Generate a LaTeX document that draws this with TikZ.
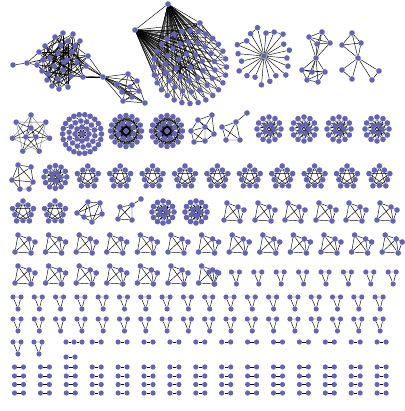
\documentclass[tikz,border=0pt]{standalone}
\pgfdeclarelayer{bg}
\pgfsetlayers{bg,main}
\definecolor{nb}{RGB}{100,100,176}
\tikzset{
 gnode/.style={circle,fill=nb,inner sep=0pt,minimum size=5.6pt},
 snode/.style={circle,fill=nb,inner sep=0pt,minimum size=5.2pt},
 gedge/.style={draw=black,line width=0.45pt},
 fedge/.style={draw=black,line width=0.35pt},
 kpair/.pic={
  \node[snode](-a) at (0,0){};
  \node[snode](-b) at (9,0){};
  \begin{pgfonlayer}{bg}\draw[gedge](-a)--(-b);\end{pgfonlayer}
 },
 kpath/.pic={
  \node[snode](-a) at (0,0){};
  \node[snode](-b) at (8,0){};
  \node[snode](-c) at (16,0){};
  \begin{pgfonlayer}{bg}\draw[gedge](-a)--(-b)--(-c);\end{pgfonlayer}
 },
 ytri/.pic={
  \node[snode](-a) at (-5,-5){};
  \node[snode](-b) at (3,-5){};
  \node[snode](-c) at (0,7){};
  \begin{pgfonlayer}{bg}\draw[gedge](-a)--(-b) (-a)--(-c) (-b)--(-c);\end{pgfonlayer}
 },
 quadg/.pic={
  \node[gnode](-t) at (-5,-9){};
  \node[gnode](-u) at (6,-5){};
  \node[gnode](-w) at (12,-2){};
  \node[gnode](-l) at (-8,8){};
  \node[gnode](-r) at (8,9){};
  \begin{pgfonlayer}{bg}
  \draw[gedge](-t)--(-u) (-u)--(-w) (-w)--(-r) (-t)--(-l) (-l)--(-r) (-t)--(-r) (-u)--(-l) (-u)--(-r);
  \end{pgfonlayer}
 },
 pentg/.pic={
  \foreach \k in {0,...,4}{
   \node[gnode](-o\k) at ({-90+72*\k}:11){};
   \node[gnode](-i\k) at ({-54+72*\k}:8.5){};}
  \begin{pgfonlayer}{bg}
  \foreach \k in {0,...,4}{
   \pgfmathtruncatemacro\kn{mod(\k+1,5)}
   \pgfmathtruncatemacro\kp{mod(\k+2,5)}
   \draw[gedge](-o\k)--(-i\k) (-i\k)--(-o\kn) (-o\k)--(-o\kp) (-i\k)--(-i\kn);}
  \end{pgfonlayer}
 },
 ringg/.pic={
  \foreach \k in {0,...,11} \node[gnode](-o\k) at ({-90+30*\k}:12){};
  \foreach \k in {0,...,4} \node[gnode](-i\k) at ({-70+72*\k}:4.7){};
  \begin{pgfonlayer}{bg}
  \foreach \k in {0,...,11}{
   \pgfmathtruncatemacro\ka{mod(\k+1,12)}
   \pgfmathtruncatemacro\kb{mod(\k+5,12)}
   \pgfmathtruncatemacro\kc{mod(\k,5)}
   \draw[gedge](-o\k)--(-o\ka) (-o\k)--(-o\kb) (-o\k)--(-i\kc);}
  \foreach \k in {0,...,4}{\pgfmathtruncatemacro\ka{mod(\k+2,5)}\draw[gedge](-i\k)--(-i\ka);}
  \end{pgfonlayer}
 },
 bigdense/.pic={
  \foreach \k in {0,...,15} \node[gnode](-o\k) at ({22.5*\k}:15.5){};
  \foreach \k in {0,...,7} \node[gnode](-m\k) at ({45*\k+20}:8){};
  \node[gnode](-c) at (0,0){};
  \begin{pgfonlayer}{bg}
  \foreach \k in {0,...,15}{
   \pgfmathtruncatemacro\ka{mod(\k+4,16)}
   \pgfmathtruncatemacro\kb{mod(\k+7,16)}
   \pgfmathtruncatemacro\kc{mod(\k,8)}
   \draw[gedge](-o\k)--(-o\ka) (-o\k)--(-o\kb) (-o\k)--(-m\kc);}
  \foreach \k in {0,...,7}{
   \pgfmathtruncatemacro\ka{mod(\k+2,8)}
   \pgfmathtruncatemacro\kb{mod(\k+3,8)}
   \draw[gedge](-m\k)--(-m\ka) (-m\k)--(-m\kb) (-m\k)--(-c);}
  \end{pgfonlayer}
 },
 bigring/.pic={
  \foreach \k in {0,...,21} \node[gnode](-o\k) at ({360/22*\k}:19.5){};
  \foreach \k in {0,...,13} \node[gnode](-m\k) at ({360/14*\k+8}:13){};
  \foreach \k in {0,...,7} \node[gnode](-i\k) at ({45*\k}:7){};
  \node[gnode](-c) at (0,0){};
  \begin{pgfonlayer}{bg}
  \foreach \k in {0,...,21}{
   \pgfmathtruncatemacro\ka{mod(round(\k*14/22),14)}
   \pgfmathtruncatemacro\kb{mod(\k+1,22)}
   \draw[gedge](-o\k)--(-m\ka) (-o\k)--(-o\kb);}
  \foreach \k in {0,...,13}{
   \pgfmathtruncatemacro\ka{mod(round(\k*8/14),8)}
   \draw[gedge](-m\k)--(-i\ka);}
  \foreach \k in {0,...,7}{
   \pgfmathtruncatemacro\ka{mod(\k+1,8)}
   \pgfmathtruncatemacro\kb{mod(\k+3,8)}
   \draw[line width=1.6pt](-i\k)--(-i\ka);
   \draw[gedge](-i\k)--(-i\kb);}
  \end{pgfonlayer}
 },
 irrca/.pic={
  \node[gnode](-a) at (-5,-12){};
  \node[gnode](-b) at (8,-10){};
  \node[gnode](-c) at (-11,3){};
  \node[gnode](-d) at (10,5){};
  \node[gnode](-e) at (-3,12){};
  \node[gnode](-f) at (6,12){};
  \begin{pgfonlayer}{bg}
  \draw[gedge](-a)--(-b) (-a)--(-c) (-b)--(-d) (-c)--(-e) (-e)--(-f) (-d)--(-f) (-a)--(-e) (-b)--(-c) (-a)--(-d) (-c)--(-d);
  \end{pgfonlayer}
 },
 irrda/.pic={
  \node[gnode](-a) at (-1,-10){};
  \node[gnode](-b) at (11,-9){};
  \node[gnode](-c) at (-12,1){};
  \node[gnode](-d) at (13,2){};
  \node[gnode](-e) at (-5,5){};
  \node[gnode](-f) at (3,10){};
  \begin{pgfonlayer}{bg}
  \draw[gedge](-a)--(-b) (-a)--(-c) (-a)--(-e) (-a)--(-f) (-b)--(-d) (-b)--(-c) (-c)--(-f) (-d)--(-f) (-e)--(-d) (-e)--(-f) (-b)--(-f);
  \end{pgfonlayer}
 },
 irrdb/.pic={
  \node[gnode](-a) at (-7,-5){};
  \node[gnode](-b) at (5,-7){};
  \node[gnode](-c) at (-9,7){};
  \node[gnode](-d) at (5,8){};
  \node[gnode](-e) at (14,-13){};
  \begin{pgfonlayer}{bg}
  \draw[gedge](-a)--(-b) (-a)--(-c) (-b)--(-d) (-c)--(-d) (-a)--(-d) (-b)--(-c) (-b)--(-e);
  \end{pgfonlayer}
 },
}
\begin{document}
\begin{tikzpicture}[x=1pt,y=-1pt]
\useasboundingbox (0,0) rectangle (404,411);

% ---------- graph 1 (left cluster with bridge) ----------
\node[gnode](g1) at (13,65){};
\node[gnode](g2) at (27,63){};
\foreach \x/\y [count=\c from 3] in {55/37,63/33,73/34,80/41,68/41,61/45,45/46,39/52,58/53,43/60,
  37/65,42/71,77/62,88/56,86/66,63/70,83/77,47/80,52/86,59/89,
  68/87,50/58,67/60,72/52,54/66,75/46,48/74,71/76,58/79,64/62}
  \node[gnode](g\c) at (\x,\y){};
\node[gnode](g33) at (103,77){};
\foreach \x/\y [count=\c from 34] in {128/74,137/81,130/87,139/91,122/92,132/97,123/101,145/103,117/84}
  \node[gnode](g\c) at (\x,\y){};
\begin{pgfonlayer}{bg}
\draw[gedge](g1)--(g2) (g2)--(g10) (g2)--(g12) (g2)--(g13) (g2)--(g24);
\foreach \i in {3,...,32}{
  \foreach \s in {5,9,14}{
    \pgfmathtruncatemacro\j{3+mod(\i-3+\s,30)}
    \draw[gedge](g\i)--(g\j);}}
\foreach \i in {15,16,17,19,26,30}{\draw[gedge](g33)--(g\i);}
\foreach \i in {34,...,42}{
  \draw[gedge](g33)--(g\i);
  \pgfmathtruncatemacro\ja{34+mod(\i-34+1,9)}
  \pgfmathtruncatemacro\jb{34+mod(\i-34+3,9)}
  \draw[gedge](g\i)--(g\ja) (g\i)--(g\jb);}
\end{pgfonlayer}

% ---------- graph 2 (dense cluster with hubs) ----------
\node[gnode](hT) at (168,4){};
\node[gnode](hL) at (135,30){};
\node[gnode](hR) at (200,23){};
\begin{scope}[shift={(190,67)}]
\foreach \k in {0,...,27} \node[gnode](bo\k) at ({360/28*\k}:36.5){};
\foreach \k in {0,...,17} \node[gnode](bm\k) at ({20*\k+7}:25){};
\foreach \k in {0,...,8} \node[gnode](bi\k) at ({40*\k+15}:13.5){};
\node[gnode](bc) at (0,0){};
\end{scope}
\begin{pgfonlayer}{bg}
\draw[gedge](hT)--(hL) (hT)--(hR) (hL)--(hR);
\foreach \k in {0,...,27}{\draw[fedge](hT)--(bo\k) (hL)--(bo\k);
  \pgfmathtruncatemacro\ka{mod(round(\k*18/28),18)}
  \draw[fedge](bo\k)--(bm\ka);}
\foreach \k in {0,...,17}{\draw[fedge](hT)--(bm\k) (hL)--(bm\k);
  \pgfmathtruncatemacro\ka{mod(\k,9)}
  \draw[fedge](bm\k)--(bi\ka);}
\foreach \k in {0,...,8}{\draw[fedge](hT)--(bi\k) (hL)--(bi\k) (bi\k)--(bc);}
\draw[fedge](hT)--(bc) (hL)--(bc);
\foreach \k in {19,20,21,22,23,24,25}{\draw[fedge](hR)--(bo\k);}
\end{pgfonlayer}

% ---------- graph 3 (star) ----------
\begin{scope}[shift={(264,56)}]
\node[gnode](s) at (0,0){};
\foreach \k in {0,...,19}{
  \pgfmathsetmacro\rr{23+3*mod(\k,3)}
  \node[gnode](s\k) at ({18*\k+5}:\rr){};}
\end{scope}
\begin{pgfonlayer}{bg}
\foreach \k in {0,...,19}{\draw[gedge](s)--(s\k);}
\draw[gedge](s13)--(s14) (s15)--(s16) (s16)--(s17) (s11)--(s12);
\end{pgfonlayer}

% ---------- graph 4 (bow tie) ----------
\node[gnode](w0) at (316,58){};
\node[gnode](w1) at (309,37){};
\node[gnode](w2) at (322,32){};
\node[gnode](w3) at (330,43){};
\node[gnode](w4) at (317,44){};
\node[gnode](w5) at (302,70){};
\node[gnode](w6) at (307,80){};
\node[gnode](w7) at (318,82){};
\node[gnode](w8) at (325,72){};
\node[gnode](w9) at (312,72){};
\begin{pgfonlayer}{bg}
\foreach \k in {1,...,9}{\draw[gedge](w0)--(w\k);}
\draw[gedge](w1)--(w2) (w2)--(w3) (w1)--(w3) (w1)--(w4) (w3)--(w4) (w2)--(w4);
\draw[gedge](w5)--(w6) (w6)--(w7) (w7)--(w8) (w8)--(w9) (w9)--(w5) (w5)--(w8) (w6)--(w8);
\end{pgfonlayer}

% ---------- graph 5 ----------
\node[gnode](x0) at (358,58){};
\node[gnode](x1) at (352,33){};
\node[gnode](x2) at (342,45){};
\node[gnode](x3) at (361,43){};
\node[gnode](x4) at (342,70){};
\node[gnode](x5) at (352,79){};
\node[gnode](x6) at (379,71){};
\node[gnode](x7) at (372,80){};
\begin{pgfonlayer}{bg}
\draw[gedge](x1)--(x2) (x1)--(x3) (x2)--(x3) (x1)--(x0) (x2)--(x0) (x3)--(x0)
  (x0)--(x4) (x0)--(x5) (x0)--(x6) (x0)--(x7) (x4)--(x5) (x6)--(x7);
\end{pgfonlayer}

% ---------- row B ----------
\begin{scope}[shift={(31,134)}]
\foreach \k in {0,...,6} \node[gnode](st\k) at ({-90+360/7*\k}:19){};
\node[gnode](sc0) at (0,-6){};
\node[gnode](sc1) at (-5,3){};
\node[gnode](sc2) at (5,3){};
\end{scope}
\begin{pgfonlayer}{bg}
\foreach \k in {0,...,6}{
  \pgfmathtruncatemacro\ka{mod(\k,3)}
  \pgfmathtruncatemacro\kb{mod(\k+1,3)}
  \pgfmathtruncatemacro\kc{mod(\k+2,7)}
  \draw[gedge](st\k)--(sc\ka) (st\k)--(sc\kb);
  \draw[fedge,black!60](st\k)--(st\kc);}
\draw[gedge](sc0)--(sc1)--(sc2)--(sc0);
\end{pgfonlayer}

\pic (bb2) at (82,134) {bigring};
\pic (bb3) at (126,131) {bigdense};
\pic (bb4) at (167,131) {bigdense};

\node[gnode](p1) at (212,115){};
\node[gnode](p2) at (198,120){};
\node[gnode](p3) at (191,131){};
\node[gnode](p4) at (205,127){};
\node[gnode](p5) at (214,134){};
\node[gnode](p6) at (194,142){};
\node[gnode](p7) at (205,141){};
\begin{pgfonlayer}{bg}
\draw[gedge](p1)--(p2) (p1)--(p4) (p1)--(p5) (p2)--(p3) (p2)--(p4) (p3)--(p4) (p3)--(p6)
  (p4)--(p5) (p4)--(p6) (p4)--(p7) (p5)--(p7) (p6)--(p7) (p2)--(p5) (p3)--(p7);
\end{pgfonlayer}

\node[gnode](q1) at (222,127){};
\node[gnode](q2) at (236,122){};
\node[gnode](q3) at (226,140){};
\node[gnode](q4) at (240,140){};
\node[gnode](q5) at (247,113){};
\begin{pgfonlayer}{bg}
\draw[gedge](q1)--(q2) (q1)--(q3) (q2)--(q4) (q3)--(q4) (q1)--(q4) (q2)--(q3) (q2)--(q5);
\end{pgfonlayer}

\pic (bb7) at (269,129) {ringg};
\pic (bb8) at (304,129) {ringg};
\pic (bb9) at (339,129) {ringg};
\pic (bb10) at (377,129) {ringg};

% ---------- row C ----------
\pic (cc0) at (23,177) {irrca};
\pic[scale=0.95] (cc1) at (55.4,177) {ringg};
\foreach \i in {2,...,11}{\pic (cc\i) at ({23+32.4*\i},177) {pentg};}

% ---------- row D ----------
\pic (dd0) at (23,212) {pentg};
\pic (dd1) at (55,212) {pentg};
\pic (dd2) at (89,212) {irrda};
\pic (dd3) at (127,212) {irrdb};
\pic[scale=0.92] (dd4) at (163,212) {ringg};
\pic[scale=0.92] (dd5) at (196,212) {ringg};
\foreach \x [count=\c from 6] in {232,263,293,324,354,385}{\pic (dd\c) at (\x,212) {quadg};}

% ---------- row E ----------
\foreach \i in {0,...,12}{\pic (ee\i) at ({23+30.6*\i},244) {quadg};}

% ---------- row F ----------
\foreach \i in {0,...,6}{\pic (ff\i) at ({23+30.6*\i},275) {quadg};}
\foreach \j in {0,...,8}{\pic (fy\j) at ({214+22.4*\j},277) {ytri};}

% ---------- rows G, H ----------
\foreach \i in {0,...,17}{
  \pic (gy\i) at ({18+21.3*\i},302) {ytri};
  \pic (hy\i) at ({18+21.3*\i},324) {ytri};}

% ---------- row I ----------
\pic (iy0) at (18,347) {ytri};
\pic (iy1) at (39,347) {ytri};
\pic (ip) at (66,342) {kpath};
\pic (ie) at (66,357) {kpair};
\foreach \i in {3,...,14}{\pic (ik\i) at ({14.5+25.9*\i},342) {kpair};}

% ---------- rows J-M ----------
\foreach \y [count=\r] in {367,376,384.5,393}{
  \foreach \i in {0,...,14}{\pic (m\r k\i) at ({14.5+25.9*\i},\y) {kpair};}}
\end{tikzpicture}
\end{document}
